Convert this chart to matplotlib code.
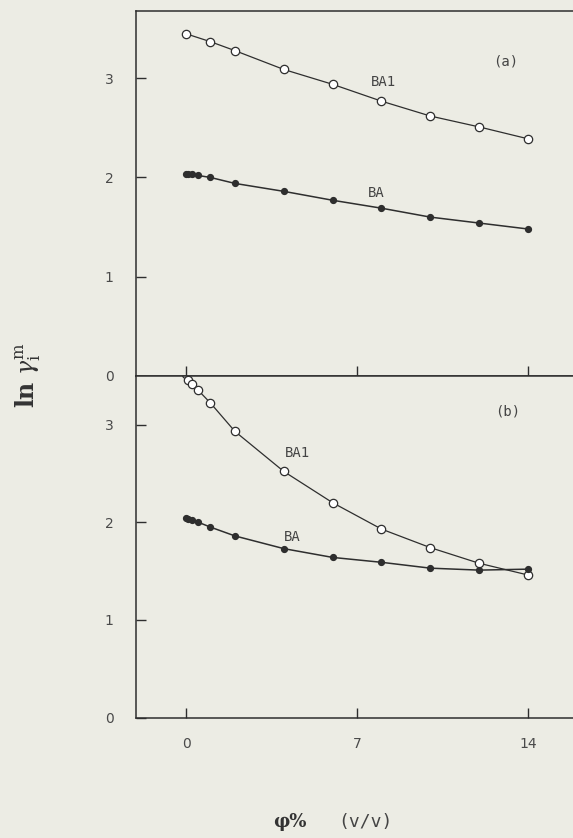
import matplotlib.pyplot as plt

# phi % (v/v)
phi = [0, 0.1, 0.25, 0.5, 1, 2, 4, 6, 8, 10, 12, 14]
phi_a1 = [0, 1, 2, 4, 6, 8, 10, 12, 14]

# panel (a)
a_ba1 = [3.45, 3.37, 3.28, 3.09, 2.94, 2.77, 2.62, 2.51, 2.39]
a_ba = [2.04, 2.035, 2.03, 2.02, 2.00, 1.94, 1.86, 1.77, 1.69, 1.60, 1.54, 1.48]

# panel (b)
b_ba1 = [3.52, 3.46, 3.41, 3.35, 3.22, 2.93, 2.52, 2.20, 1.93, 1.74, 1.58, 1.46]
b_ba = [2.04, 2.03, 2.02, 2.00, 1.95, 1.86, 1.73, 1.64, 1.59, 1.53, 1.51, 1.52]

xticks = [0, 7, 14]
yticks = [0, 1, 2, 3]

bg = '#ecece4'
ink = '#2e2e2e'
mono = 'DejaVu Sans Mono'

fig = plt.figure(figsize=(5.73, 8.38), dpi=100, facecolor=bg)
ax1 = fig.add_axes([0.2373, 0.5517, 0.7627, 0.4352])
ax2 = fig.add_axes([0.2373, 0.1436, 0.7627, 0.4081])


def style(ax, ytop):
    ax.set_facecolor(bg)
    ax.set_xlim(-2.05, 15.84)
    ax.set_ylim(0, ytop)
    ax.set_xticks(xticks)
    ax.set_yticks(yticks)
    ax.spines['right'].set_visible(False)
    for s in ['left', 'top', 'bottom']:
        ax.spines[s].set_color(ink)
        ax.spines[s].set_linewidth(1.1)
    ax.tick_params(direction='in', length=7, width=1, colors=ink,
                   labelsize=10, labelcolor='#4a4a4a')
    ax.tick_params(axis='y', pad=16)
    ax.tick_params(axis='x', pad=14)


style(ax1, 3.68)
style(ax2, 3.50)
ax1.tick_params(axis='x', labelbottom=False)

open_kw = dict(color=ink, lw=0.9, marker='o', ms=6, mfc='white', mec=ink, mew=0.9)
fill_kw = dict(color=ink, lw=1.1, marker='o', ms=4.2, mfc=ink, mec=ink)

ax1.plot(phi_a1, a_ba1, **open_kw)
ax1.plot(phi, a_ba, **fill_kw)
ax2.plot(phi, b_ba1, **open_kw)
ax2.plot(phi, b_ba, **fill_kw)

txt = dict(family=mono, fontsize=10, color='#444444', ha='center', va='center')
ax1.text(8.06, 2.96, 'BA1', **txt)
ax1.text(7.8, 1.84, 'BA', **txt)
ax1.text(13.1, 3.17, '(a)', **txt)
ax2.text(4.55, 2.71, 'BA1', **txt)
ax2.text(4.33, 1.85, 'BA', **txt)
ax2.text(13.15, 3.13, '(b)', **txt)

fig.text(0.05, 0.552, r'$\mathbf{ln}\ \gamma_{\rm i}^{\rm m}$', rotation=90,
         ha='center', va='center', fontsize=17, color='#333333',
         math_fontfamily='dejavuserif')
fig.text(0.506, 0.019, 'φ%', family='DejaVu Serif', fontweight='bold',
         fontsize=13, color='#333333', ha='center', va='center')
fig.text(0.637, 0.019, '(v/v)', family=mono, fontsize=13,
         color='#444444', ha='center', va='center')

plt.savefig('out.png', dpi=100, facecolor=bg)
